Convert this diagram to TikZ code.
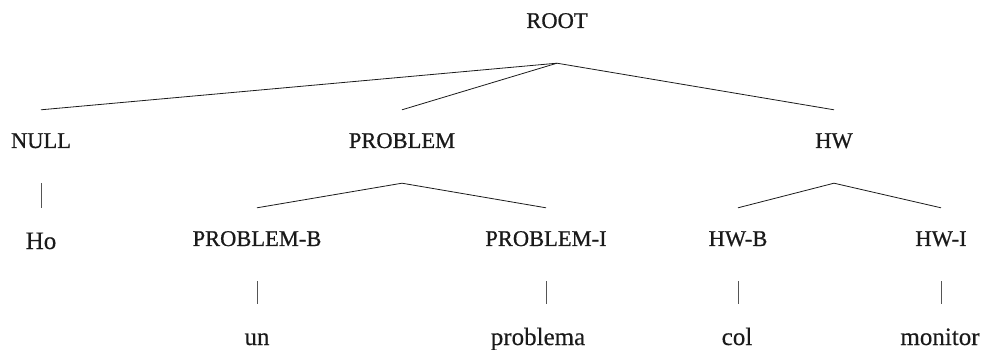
\documentclass[tikz,border=0pt]{standalone}
\usepackage{fontspec}
\setmainfont{Liberation Serif}
\newfontfamily\tagface[FakeBold=0.7]{Liberation Serif}
\newfontfamily\wordface[FakeBold=0.3]{Liberation Serif}
\usepackage{tikz}
\usetikzlibrary{positioning, calc}
\usepackage{xcolor}
\definecolor{TreeInk}{HTML}{1A1A1A}
\definecolor{StemGray}{HTML}{555555}

\begin{document}
\begin{tikzpicture}[
  x=1pt, y=1pt,
  tag/.style={
    anchor=base, inner xsep=2pt, inner ysep=23pt,
    text height=15pt, text depth=12pt, text=TreeInk,
    font=\tagface\fontsize{22.5}{27}\selectfont
  },
  word/.style={
    anchor=base, inner xsep=2pt, inner ysep=25pt,
    text height=16pt, text depth=6pt, text=TreeInk,
    font=\wordface\fontsize{25}{30}\selectfont
  },
  branch/.style={draw=TreeInk, line width=0.8pt},
  stem/.style={draw=StemGray, line width=0.9pt}
]
  \useasboundingbox (0,0) rectangle (989,-350);

  % Tags
  \node[tag] (root) at (557,-28) {ROOT};
  \node[tag] (null) at (41,-148) {NULL};
  \node[tag] (problem) at (402,-148) {PROBLEM};
  \node[tag] (hw) at (834,-148) {HW};
  \node[tag] (problemb) at (257,-246) {PROBLEM-B};
  \node[tag] (problemi) at (546,-246) {PROBLEM-I};
  \node[tag] (hwb) at (738,-246) {HW-B};
  \node[tag] (hwi) at (941,-246) {HW-I};

  % Words
  \node[word] (ho) at (41,-249) {Ho};
  \node[word] (un) at (257,-345) {un};
  \node[word] (problema) at (538,-345) {problema};
  \node[word] (col) at (737,-345) {col};
  \node[word] (monitor) at (940,-345) {monitor};

  % Branches
  \draw[branch] (root.south) -- (null.north);
  \draw[branch] (root.south) -- (problem.north);
  \draw[branch] (root.south) -- (hw.north);
  \draw[branch] (problem.south) -- (problemb.north);
  \draw[branch] (problem.south) -- (problemi.north);
  \draw[branch] (hw.south) -- (hwb.north);
  \draw[branch] (hw.south) -- (hwi.north);

  % Stems
  \draw[stem] (null.south) -- (null.south |- ho.north);
  \draw[stem] (problemb.south) -- (problemb.south |- un.north);
  \draw[stem] (problemi.south) -- (problemi.south |- problema.north);
  \draw[stem] (hwb.south) -- (hwb.south |- col.north);
  \draw[stem] (hwi.south) -- (hwi.south |- monitor.north);
\end{tikzpicture}
\end{document}
